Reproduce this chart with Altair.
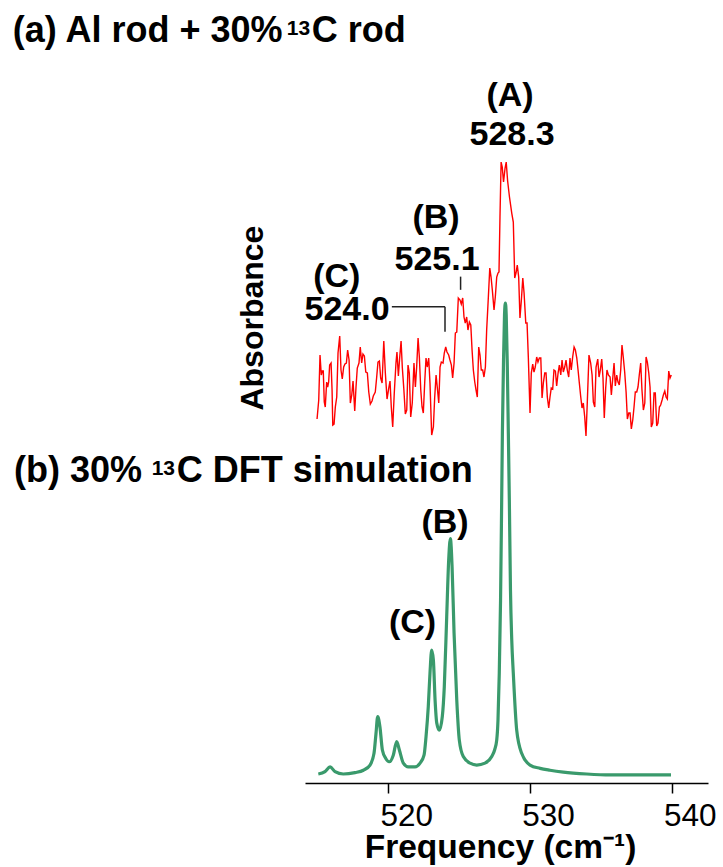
import altair as alt
import pandas as pd

FONT = "Liberation Sans, Arial, Helvetica, sans-serif"

# ---------------- (a) experimental spectrum: Al rod + 30% 13C rod ----------------
red_freq = [
    514.97, 515.09, 515.18, 515.27, 515.34, 515.41, 515.48, 515.55, 515.65, 515.72,
    515.79, 515.86, 515.96, 516.03, 516.08, 516.17, 516.26, 516.36, 516.45, 516.57,
    516.66, 516.75, 516.85, 516.94, 517.04, 517.13, 517.23, 517.32, 517.42, 517.51,
    517.63, 517.72, 517.81, 517.93, 518.02, 518.12, 518.21, 518.31, 518.41, 518.52,
    518.62, 518.73, 518.85, 518.94, 519.08, 519.18, 519.27, 519.37, 519.46, 519.56,
    519.68, 519.79, 519.91, 520.03, 520.12, 520.21, 520.31, 520.42, 520.54, 520.61,
    520.71, 520.80, 520.90, 520.99, 521.09, 521.20, 521.30, 521.39, 521.48, 521.58,
    521.69, 521.81, 521.91, 522.00, 522.10, 522.19, 522.29, 522.38, 522.47, 522.57,
    522.66, 522.75, 522.85, 522.94, 523.06, 523.18, 523.27, 523.37, 523.46, 523.56,
    523.65, 523.74, 523.86, 523.95, 524.05, 524.14, 524.26, 524.35, 524.45, 524.54,
    524.64, 524.73, 524.83, 524.94, 525.06, 525.15, 525.25, 525.34, 525.43, 525.53,
    525.62, 525.72, 525.82, 525.91, 526.00, 526.10, 526.19, 526.28, 526.38, 526.47,
    526.56, 526.66, 526.75, 526.85, 526.94, 527.06, 527.16, 527.25, 527.34, 527.46,
    527.55, 527.65, 527.74, 527.81, 527.88, 527.96, 528.04, 528.13, 528.24, 528.32,
    528.42, 528.55, 528.71, 528.82, 528.92, 529.01, 529.10, 529.20, 529.29, 529.39,
    529.49, 529.58, 529.70, 529.79, 529.88, 530.00, 530.09, 530.19, 530.28, 530.37,
    530.47, 530.56, 530.66, 530.76, 530.85, 530.94, 531.04, 531.13, 531.22, 531.32,
    531.41, 531.50, 531.60, 531.69, 531.79, 531.88, 531.98, 532.07, 532.17, 532.26,
    532.35, 532.45, 532.54, 532.63, 532.73, 532.82, 532.91, 533.01, 533.11, 533.20,
    533.30, 533.39, 533.48, 533.58, 533.67, 533.76, 533.86, 533.95, 534.04, 534.16,
    534.28, 534.38, 534.47, 534.57, 534.66, 534.78, 534.87, 534.96, 535.06, 535.15,
    535.24, 535.34, 535.43, 535.53, 535.65, 535.74, 535.84, 535.93, 536.02, 536.12,
    536.21, 536.30, 536.40, 536.49, 536.58, 536.68, 536.78, 536.87, 536.97, 537.06,
    537.15, 537.25, 537.34, 537.43, 537.53, 537.62, 537.71, 537.81, 537.90, 538.00,
    538.10, 538.19, 538.28, 538.38, 538.47, 538.56, 538.66, 538.75, 538.84, 538.94,
    539.03, 539.13, 539.22, 539.32, 539.41, 539.51, 539.60, 539.69, 539.79, 539.88,
    539.97,
]
red_abs = [
    -0.044, -0.025, 0.020, 0.000, 0.004, 0.004, -0.027, -0.032, -0.007, -0.012,
    -0.007, 0.010, 0.012, -0.015, -0.050, -0.049, -0.032, -0.022, 0.022, 0.039,
    0.005, -0.004, 0.008, 0.011, 0.012, 0.025, 0.015, -0.028, -0.020, -0.006,
    -0.036, -0.012, 0.007, 0.012, 0.028, 0.012, 0.021, 0.019, 0.003, 0.002,
    -0.017, -0.029, -0.026, -0.021, -0.017, -0.002, 0.013, 0.014, -0.003, -0.008,
    0.034, 0.002, -0.024, -0.013, -0.006, -0.032, -0.052, -0.018, 0.012, 0.023,
    -0.001, 0.017, 0.034, 0.007, -0.013, -0.039, -0.035, 0.010, 0.002, -0.042,
    -0.028, 0.012, -0.012, 0.008, 0.037, 0.018, -0.015, -0.032, -0.038, -0.007,
    0.017, 0.008, 0.017, -0.008, -0.060, -0.052, -0.023, 0.000, -0.013, -0.028,
    0.008, 0.013, 0.012, 0.022, 0.028, 0.023, 0.020, 0.015, 0.010, -0.003,
    0.012, 0.042, 0.043, 0.077, 0.075, 0.071, 0.077, 0.058, 0.052, 0.058,
    0.045, 0.053, 0.050, 0.025, 0.005, -0.007, -0.015, -0.022, 0.028, 0.020,
    0.005, 0.005, -0.002, 0.008, 0.045, 0.078, 0.107, 0.098, 0.085, 0.065,
    0.078, 0.098, 0.102, 0.103, 0.158, 0.213, 0.208, 0.193, 0.207, 0.213,
    0.194, 0.178, 0.162, 0.153, 0.097, 0.102, 0.110, 0.098, 0.057, 0.075,
    0.097, 0.082, 0.052, 0.052, 0.018, -0.038, 0.002, 0.011, 0.003, 0.008,
    0.018, 0.013, 0.017, 0.017, -0.023, -0.008, 0.002, 0.002, -0.022, -0.033,
    -0.022, -0.013, -0.014, 0.005, 0.004, -0.011, 0.002, 0.010, 0.000, 0.015,
    0.003, 0.008, 0.015, 0.005, -0.002, 0.017, 0.005, 0.018, 0.028, 0.025,
    0.017, 0.005, -0.008, -0.022, -0.033, -0.028, -0.042, -0.061, -0.028, 0.020,
    0.012, 0.000, -0.027, -0.032, 0.008, 0.016, -0.002, 0.005, 0.016, -0.003,
    -0.043, -0.013, 0.005, 0.000, -0.002, -0.020, -0.003, 0.012, -0.011, 0.000,
    -0.007, -0.010, 0.005, 0.030, 0.018, 0.003, -0.017, -0.044, -0.038, -0.038,
    -0.054, -0.045, -0.032, -0.017, -0.017, -0.012, 0.000, 0.012, -0.015, -0.035,
    -0.028, 0.018, 0.013, 0.002, -0.012, -0.052, -0.048, -0.018, -0.018, -0.051,
    -0.048, -0.032, -0.030, -0.025, -0.020, -0.016, -0.022, -0.024, 0.004, -0.003,
    0.000,
]

# ---------------- (b) 30% 13C DFT simulation (relative intensity, %) ----------------
sim_freq = [
    515.06, 515.53, 515.89, 516.24, 516.82, 517.65, 518.24, 518.71, 518.99, 519.13,
    519.25, 519.41, 519.58, 519.82, 520.07, 520.35, 520.59, 520.78, 521.06, 521.41,
    521.88, 522.24, 522.52, 522.66, 522.82, 522.94, 523.06, 523.18, 523.30, 523.42,
    523.60, 523.81, 523.95, 524.12, 524.26, 524.38, 524.50, 524.64, 524.83, 525.01,
    525.29, 525.77, 526.24, 526.82, 527.30, 527.50, 527.65, 527.74, 527.83, 527.92,
    528.00, 528.05, 528.13, 528.20, 528.26, 528.32, 528.39, 528.47, 528.54, 528.62,
    528.71, 528.82, 529.06, 529.41, 530.00, 530.71, 531.41, 532.35, 534.00, 535.65,
    537.76, 539.95,
]
sim_int = [
    0.0, 0.5, 1.5, 0.5, 0.0, 0.3, 0.8, 1.9, 4.4, 8.6,
    12.2, 10.0, 5.1, 3.3, 2.6, 4.0, 6.9, 5.1, 2.3, 1.5,
    1.5, 2.3, 4.0, 7.9, 14.3, 21.4, 26.3, 24.2, 15.7, 10.8,
    9.3, 12.2, 18.5, 33.4, 45.4, 50.0, 44.0, 29.9, 15.7, 7.2,
    3.7, 2.3, 1.9, 2.3, 3.7, 5.1, 7.2, 11.5, 21.4, 36.9,
    58.2, 72.4, 87.9, 97.5, 100.0, 97.5, 87.9, 72.4, 58.2, 39.1,
    28.5, 21.4, 9.3, 4.4, 1.9, 1.2, 0.8, 0.4, 0.0, -0.2,
    -0.2, -0.2,
]

tick_values = [520, 530, 540]

# peak annotations
ann_text = ["(A)", "528.3", "(B)", "525.1", "(C)", "524.0", "(B)", "(C)"]
ann_freq = [528.59, 528.73, 523.37, 523.44, 516.36, 517.09, 524.00, 521.71]
ann_y = [141.8, 133.6, 115.9, 107.0, 103.5, 96.4, 51.2, 29.9]

# panel titles, split so that the isotope mass "13" is a real superscript
title_text = ["(a) Al rod + 30%", "13", "C rod",
              "(b) 30%", "13", "C DFT simulation"]
title_freq = [493.50, 512.83, 514.59, 493.58, 503.30, 505.07]
title_y = [155.4, 156.9, 155.4, 62.1, 63.5, 62.1]
title_size = [36, 21, 36, 36, 21, 36]

# leader lines for the (C) 524.0 and (B) 525.1 labels
lead_x1 = [520.25, 524.0, 525.1]
lead_x2 = [524.0, 524.0, 525.1]
lead_y1 = [99.2, 99.2, 105.6]
lead_y2 = [99.2, 93.9, 102.8]

red_df = pd.DataFrame({"freq": red_freq, "absorb": red_abs})
sim_df = pd.DataFrame({"freq": sim_freq, "y": sim_int})
ann_df = pd.DataFrame({"freq": ann_freq, "y": ann_y, "label": ann_text})
title_df = pd.DataFrame({"freq": title_freq, "y": title_y, "label": title_text,
                         "fs": title_size})
lead_df = pd.DataFrame({"freq": lead_x1, "freq2": lead_x2, "y": lead_y1, "y2": lead_y2})
ylab_df = pd.DataFrame({"freq": [510.45], "y": [96.8], "label": ["Absorbance"]})

xscale = alt.Scale(domain=[514.12, 542.56], nice=False, zero=False)
yscale = alt.Scale(domain=[-1.911, 162.21], nice=False, zero=False)
xaxis = alt.Axis(
    values=tick_values, format="d", title="Frequency (cm\u207b\u00b9)", grid=False,
    domainColor="black", domainWidth=1.5, tickColor="black", tickWidth=1.5, tickSize=10,
    labelFont=FONT, labelFontSize=31.5, labelColor="black", labelPadding=7,
    labelOffset=18, labelFlush=False, labelOverlap=False,
    titleFont=FONT, titleFontSize=33.5, titleFontWeight="bold", titleColor="black",
    titleX=195, titleY=74.5, titleBaseline="alphabetic", titleAlign="center",
)
x_enc = alt.X("freq:Q", scale=xscale, axis=xaxis)
y_enc = alt.Y("y:Q", scale=yscale, axis=None)

red = (
    alt.Chart(red_df)
    .transform_calculate(y="datum.absorb * 212.3 + 84.71")
    .mark_line(color="#ff0000", strokeWidth=1.4)
    .encode(x=x_enc, y=y_enc)
)
green = (
    alt.Chart(sim_df)
    .mark_line(color="#3a9a6c", strokeWidth=3.2, interpolate="monotone")
    .encode(x=x_enc, y=y_enc)
)
leaders = (
    alt.Chart(lead_df)
    .mark_rule(color="#222222", strokeWidth=1.5)
    .encode(x=x_enc, x2="freq2:Q", y=y_enc, y2="y2:Q")
)
ann = (
    alt.Chart(ann_df)
    .mark_text(align="center", baseline="alphabetic", font=FONT, fontSize=34,
               fontWeight="bold", color="black")
    .encode(x=x_enc, y=y_enc, text="label:N")
)
titles = (
    alt.Chart(title_df)
    .mark_text(align="left", baseline="alphabetic", font=FONT,
               fontWeight="bold", color="black")
    .encode(x=x_enc, y=y_enc, text="label:N", size=alt.Size("fs:Q", scale=None))
)
ylab = (
    alt.Chart(ylab_df)
    .mark_text(align="center", baseline="middle", angle=270, font=FONT, fontSize=32,
               fontWeight="bold", color="black")
    .encode(x=x_enc, y=y_enc, text="label:N")
)

chart = (
    alt.layer(red, green, leaders, ann, titles, ylab)
    .properties(
        width=403, height=773,
        autosize=alt.AutoSizeParams(type="none"),
        padding={"left": 305, "top": 10, "right": 15, "bottom": 84},
        background="white",
    )
    .configure_view(stroke=None)
)

chart.save("out.html", embed_options={"renderer": "svg", "actions": False})
